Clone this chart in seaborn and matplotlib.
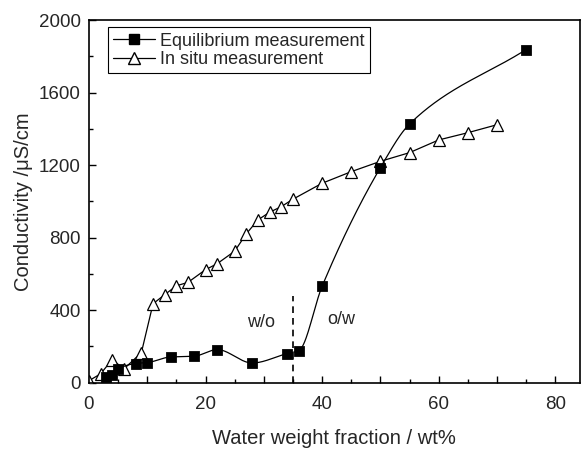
import numpy as np
import pandas as pd
import matplotlib
matplotlib.use("Agg")
import matplotlib.pyplot as plt
from matplotlib.lines import Line2D
from matplotlib.ticker import MultipleLocator, FuncFormatter
import seaborn as sns

# data
eq_x = [3, 4, 5, 8, 10, 14, 18, 22, 28, 34, 36, 40, 50, 55, 75]
eq_y = [28, 40, 75, 105, 110, 141, 145, 182, 108, 160, 176, 531, 1186, 1427, 1838]

situ_x = [0, 2, 4, 6, 9, 11, 13, 15, 17, 20, 22, 25, 27, 29, 31, 33, 35,
          40, 45, 50, 55, 60, 65, 70]
situ_y = [10, 48, 127, 75, 165, 435, 485, 534, 553, 623, 656, 725, 821, 898,
          940, 971, 1012, 1100, 1164, 1221, 1269, 1339, 1379, 1423]

boundary_x = 35
boundary_top = 480


def pchip(x, y, xs):
    # shape preserving cubic, only used to draw the smooth line
    x = np.asarray(x, float)
    y = np.asarray(y, float)
    h = np.diff(x)
    d = np.diff(y) / h
    m = np.zeros_like(y)
    for k in range(1, len(x) - 1):
        if d[k - 1] * d[k] > 0:
            w1 = 2 * h[k] + h[k - 1]
            w2 = h[k] + 2 * h[k - 1]
            m[k] = (w1 + w2) / (w1 / d[k - 1] + w2 / d[k])
    m[0] = d[0]
    m[-1] = d[-1]
    out = np.empty_like(xs)
    idx = np.clip(np.searchsorted(x, xs) - 1, 0, len(x) - 2)
    for j, (xv, k) in enumerate(zip(xs, idx)):
        t = (xv - x[k]) / h[k]
        h00 = 2 * t**3 - 3 * t**2 + 1
        h10 = t**3 - 2 * t**2 + t
        h01 = -2 * t**3 + 3 * t**2
        h11 = t**3 - t**2
        out[j] = h00 * y[k] + h10 * h[k] * m[k] + h01 * y[k + 1] + h11 * h[k] * m[k + 1]
    return out


sns.set_theme(style="ticks")
plt.rcParams['font.family'] = ['Liberation Sans', 'DejaVu Sans']

eq_df = pd.DataFrame({'x': eq_x, 'y': eq_y})
situ_df = pd.DataFrame({'x': situ_x, 'y': situ_y})
xs = np.linspace(eq_x[0], eq_x[-1], 600)
curve_df = pd.DataFrame({'x': xs, 'y': pchip(eq_x, eq_y, xs)})

fig = plt.figure(figsize=(5.85, 4.49), dpi=100)
ax = fig.add_axes([0.152, 0.148, 0.839, 0.807])

# in situ: straight segments with open triangles
sns.lineplot(data=situ_df, x='x', y='y', ax=ax, color='black', lw=0.9,
             marker='^', markersize=8.5, markerfacecolor='white',
             markeredgecolor='black', markeredgewidth=0.9, sort=False)

# equilibrium: smooth line plus filled squares
sns.lineplot(data=curve_df, x='x', y='y', ax=ax, color='black', lw=0.9)
sns.scatterplot(data=eq_df, x='x', y='y', ax=ax, marker='s', s=50,
                color='black', edgecolor='black', zorder=3)

ax.plot([boundary_x, boundary_x], [0, boundary_top], color='black', lw=1.2,
        ls=(0, (4, 3)))
ax.text(29.5, 330, 'w/o', fontsize=13, ha='center', va='center')
ax.text(43.3, 347, 'o/w', fontsize=13, ha='center', va='center')

ax.set_xlim(0, 84.2)
ax.set_ylim(0, 2000)
ax.xaxis.set_major_locator(MultipleLocator(10))
ax.xaxis.set_minor_locator(MultipleLocator(5))
ax.xaxis.set_major_formatter(FuncFormatter(lambda v, p: f"{v:.0f}" if v % 20 == 0 else ""))
ax.yaxis.set_major_locator(MultipleLocator(400))
ax.yaxis.set_minor_locator(MultipleLocator(200))
ax.tick_params(which='both', direction='in', top=False, right=False,
               labelsize=13.5, width=1, color='black')
ax.tick_params(which='major', length=5)
ax.tick_params(which='minor', length=3)
ax.tick_params(axis='x', which='major', pad=10)
ax.tick_params(axis='y', which='major', pad=6)
for s in ax.spines.values():
    s.set_linewidth(1.2)
    s.set_color('black')

ax.set_xlabel('Water weight fraction / wt%', fontsize=14.5, labelpad=11)
ax.set_ylabel('Conductivity /μS/cm', fontsize=14.5, labelpad=4)

handles = [
    Line2D([], [], color='black', lw=0.9, marker='s', markersize=7),
    Line2D([], [], color='black', lw=0.9, marker='^', markersize=8,
           markerfacecolor='white', markeredgecolor='black'),
]
ax.legend(handles, ['Equilibrium measurement', 'In situ measurement'],
          loc='upper left', bbox_to_anchor=(0.039, 0.981), borderaxespad=0,
          fancybox=False, edgecolor='black', framealpha=1, fontsize=13,
          handlelength=2.3, handletextpad=0.3, labelspacing=0.08,
          borderpad=0.3)
ax.get_legend().get_frame().set_linewidth(0.8)

fig.savefig('out.png', dpi=100)
